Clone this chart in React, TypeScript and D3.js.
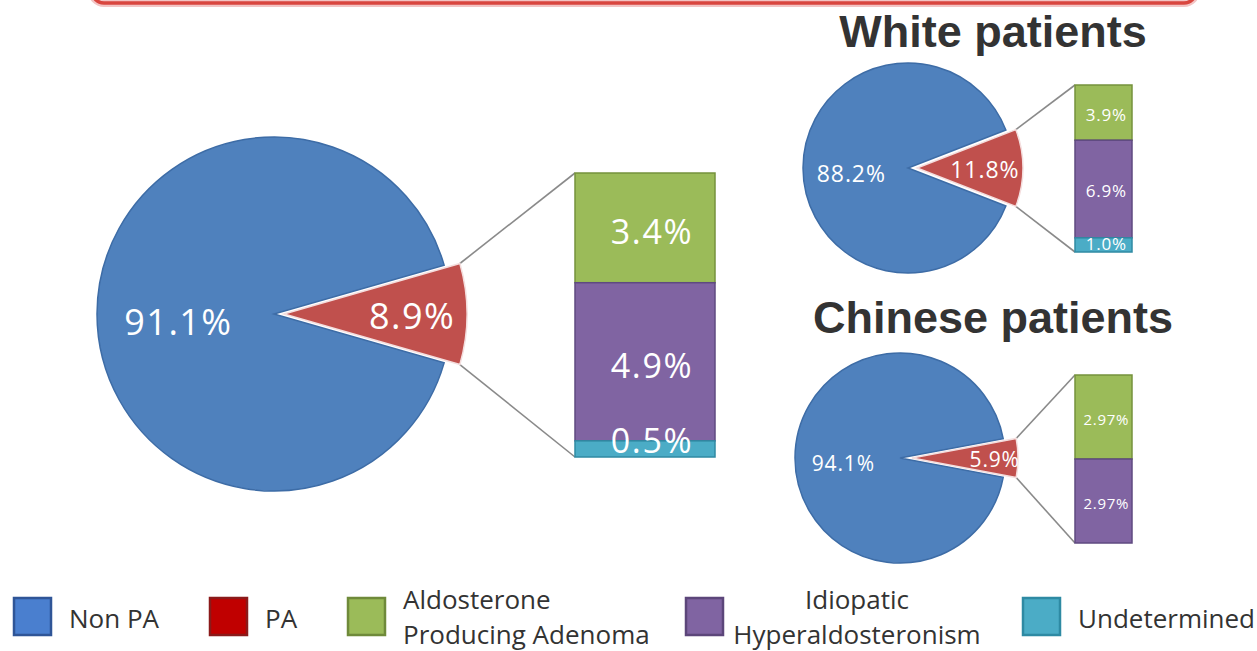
import * as d3 from "d3";
import React from "react";

// chart values
const categories = ["Non PA", "PA", "Aldosterone Producing Adenoma", "Idiopatic Hyperaldosteronism", "Undetermined"];
const legendLines = [["Non PA"], ["PA"], ["Aldosterone", "Producing Adenoma"], ["Idiopatic", "Hyperaldosteronism"], ["Undetermined"]];
const overallPie = [91.1, 8.9];
const overallSub = [3.4, 4.9, 0.5];
const whitePie = [88.2, 11.8];
const whiteSub = [3.9, 6.9, 1.0];
const chinesePie = [94.1, 5.9];
const chineseSub = [2.97, 2.97];
const panelTitles = ["White patients", "Chinese patients"];

const pieColors = ["#4f81bd", "#c0504d"];
const pieStrokes = ["#3d6ca6", "#f4dede"];
const subColors = ["#9bbb59", "#8064a2", "#4bacc6"];
const subStrokes = ["#76923c", "#5f4a80", "#2f8aa3"];
const legendFill = d3.scaleOrdinal<string, string>().domain(categories).range(["#4a7fcf", "#c00000", "#9bbb59", "#8064a2", "#4bacc6"]);
const legendStroke = d3.scaleOrdinal<string, string>().domain(categories).range(["#2f5597", "#8b1a1a", "#6f8a3a", "#5c467a", "#2e8aa3"]);

const W = 1257;
const H = 651;
const labelFont = "'Open Sans', 'DejaVu Sans', sans-serif";

type Layout = {
  cx: number; cy: number; r: number; rRed: number; offset: number;
  barX: number; barW: number; barTop: number; barBottom: number;
  fontPie: number; fontBar: number; redLabel: number;
};

const PiePanel = ({ pie, sub, subDecimals, lay }: { pie: number[]; sub: number[]; subDecimals: number; lay: Layout }) => {
  const fmtPie = (v: number) => d3.format(".1f")(v) + "%";
  const fmtSub = (v: number) => d3.format(`.${subDecimals}f`)(v) + "%";
  const p = pie[1] / d3.sum(pie);
  const start = Math.PI / 2 + Math.PI * p - 2 * Math.PI;
  const arcs = d3.pie<number>().sort(null).startAngle(start).endAngle(start + 2 * Math.PI)(pie);
  const arcBlue = d3.arc<d3.PieArcDatum<number>>().innerRadius(0).outerRadius(lay.r);
  const arcRed = d3.arc<d3.PieArcDatum<number>>().innerRadius(0).outerRadius(lay.rRed);
  const rx = lay.cx + lay.offset;
  const corner = (a: number) => [rx + lay.rRed * Math.sin(a), lay.cy - lay.rRed * Math.cos(a)];
  const [ux, uy] = corner(arcs[1].startAngle);
  const [lx, ly] = corner(arcs[1].endAngle);
  const y = d3.scaleLinear().domain([0, d3.sum(sub)]).range([lay.barTop, lay.barBottom]);
  const ends = Array.from(d3.cumsum(sub));
  const barCx = lay.barX + lay.barW / 2 + lay.barW * 0.05;

  return (
    <g>
      <line x1={ux} y1={uy} x2={lay.barX} y2={y(0)} stroke="#8a8a8a" strokeWidth={1.6} />
      <line x1={lx} y1={ly} x2={lay.barX} y2={y(d3.sum(sub))} stroke="#8a8a8a" strokeWidth={1.6} />
      <path transform={`translate(${lay.cx},${lay.cy})`} d={arcBlue(arcs[0]) ?? undefined} fill={pieColors[0]} stroke={pieStrokes[0]} strokeWidth={1.5} />
      <path transform={`translate(${rx},${lay.cy})`} d={arcRed(arcs[1]) ?? undefined} fill={pieColors[1]} stroke={pieStrokes[1]} strokeWidth={1.5} />
      <text x={lay.cx - lay.r * 0.54} y={lay.cy + lay.r * 0.045} fill="#fff" fontFamily={labelFont} fontSize={lay.fontPie} letterSpacing={lay.fontPie * 0.04} textAnchor="middle" dominantBaseline="central">{fmtPie(pie[0])}</text>
      <text x={rx + lay.rRed * lay.redLabel} y={lay.cy + 1} fill="#fff" fontFamily={labelFont} fontSize={lay.fontPie} letterSpacing={lay.fontPie * 0.04} textAnchor="middle" dominantBaseline="central">{fmtPie(pie[1])}</text>
      {sub.map((v, i) => {
        const y0 = y(ends[i] - v);
        const y1 = y(ends[i]);
        const ty = Math.min((y0 + y1) / 2 + lay.fontBar * 0.1, lay.barBottom - lay.fontBar * 0.5);
        return (
          <g key={i}>
            <rect x={lay.barX} y={y0} width={lay.barW} height={y1 - y0} fill={subColors[i]} stroke={subStrokes[i]} strokeWidth={1.5} />
            <text x={barCx} y={ty} fill="#fff" fontFamily={labelFont} fontSize={lay.fontBar} letterSpacing={lay.fontBar * 0.05} textAnchor="middle" dominantBaseline="central">{fmtSub(v)}</text>
          </g>
        );
      })}
    </g>
  );
};

const legendX = [14, 210, 348, 686, 1023];

const App = () => {
  const overall: Layout = { cx: 274, cy: 314, r: 177, rRed: 183, offset: 10, barX: 575, barW: 140, barTop: 173, barBottom: 457, fontPie: 36, fontBar: 34, redLabel: 0.7 };
  const white: Layout = { cx: 908, cy: 168, r: 105, rRed: 106, offset: 9, barX: 1075, barW: 57, barTop: 85, barBottom: 252, fontPie: 23, fontBar: 17, redLabel: 0.64 };
  const chinese: Layout = { cx: 900, cy: 458, r: 105, rRed: 106, offset: 12, barX: 1075, barW: 57, barTop: 375, barBottom: 543, fontPie: 21, fontBar: 15, redLabel: 0.78 };

  return (
    <svg width={W} height={H} style={{ position: "absolute", left: 0, top: 0, display: "block", background: "#fff" }}>
      <rect x={92} y={-40} width={1104} height={43} rx={12} fill="none" stroke="#f3c4c4" strokeWidth={8} />
      <rect x={92} y={-40} width={1104} height={43} rx={12} fill="none" stroke="#d9463f" strokeWidth={3.5} />

      <PiePanel pie={overallPie} sub={overallSub} subDecimals={1} lay={overall} />
      <PiePanel pie={whitePie} sub={whiteSub} subDecimals={1} lay={white} />
      <PiePanel pie={chinesePie} sub={chineseSub} subDecimals={2} lay={chinese} />

      <text x={993} y={47} textAnchor="middle" fontFamily="'Liberation Sans', Arial, sans-serif" fontWeight="bold" fontSize={45} fill="#333">{panelTitles[0]}</text>
      <text x={993} y={333} textAnchor="middle" fontFamily="'Liberation Sans', Arial, sans-serif" fontWeight="bold" fontSize={45} fill="#333">{panelTitles[1]}</text>

      {categories.map((c, i) => {
        const lines = legendLines[i];
        const x = legendX[i];
        const centered = i === 3;
        const tx = centered ? 857 : x + 55;
        return (
          <g key={c}>
            <rect x={x} y={598} width={37} height={37} fill={legendFill(c)} stroke={legendStroke(c)} strokeWidth={2.5} />
            {lines.map((t, j) => (
              <text key={j} x={tx} y={lines.length === 1 ? 618 : 599 + j * 35} fill="#333" fontFamily={labelFont} fontSize={26} textAnchor={centered ? "middle" : "start"} dominantBaseline="central">{t}</text>
            ))}
          </g>
        );
      })}
    </svg>
  );
};

export default App;
